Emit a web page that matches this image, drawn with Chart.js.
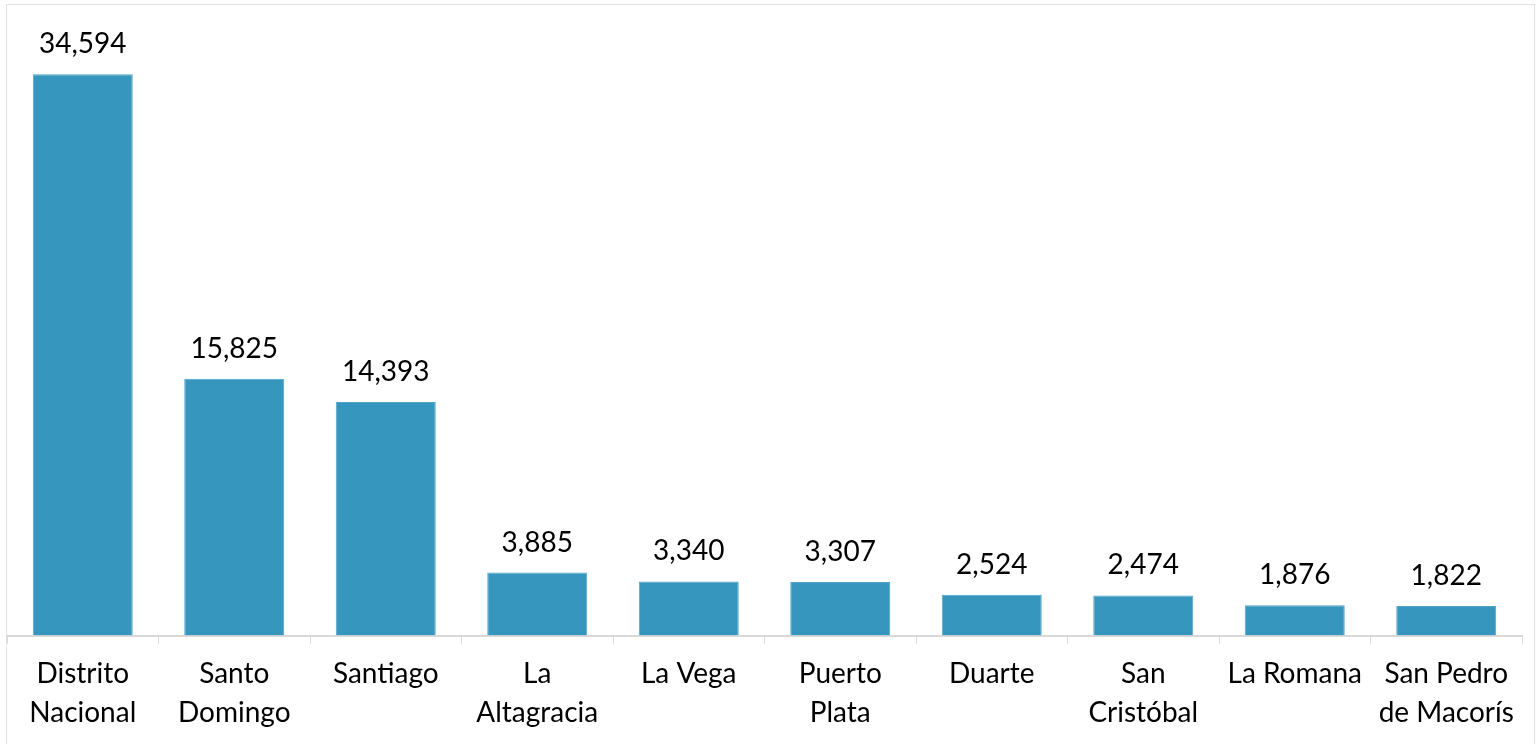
<!DOCTYPE html>
<html>
<head>
<meta charset="utf-8">
<script src="https://cdn.jsdelivr.net/npm/chart.js@4/dist/chart.umd.min.js"></script>
<style>
  body { margin: 0; background: #fff; overflow: hidden; }
  #frame { position: absolute; left: 6px; top: 4px; width: 1527px; height: 760px; border: 1px solid #e6e2e2; }
  #chart { position: absolute; left: 0; top: 0; }
</style>
</head>
<body>
<div id="frame"></div>
<canvas id="chart" width="1537" height="744"></canvas>
<script>
// provincias y valores
const provincias = [
  ['Distrito', 'Nacional'],
  ['Santo', 'Domingo'],
  'Santiago',
  ['La', 'Altagracia'],
  'La Vega',
  ['Puerto', 'Plata'],
  'Duarte',
  ['San', 'Cristóbal'],
  'La Romana',
  ['San Pedro', 'de Macorís']
];
const valores = [34594, 15825, 14393, 3885, 3340, 3307, 2524, 2474, 1876, 1822];

const barColor = 'rgb(54, 150, 189)';
const axisColor = '#d9d9d9';
const fuente = 'Lato, "Open Sans", sans-serif';

// etiquetas encima de las barras
const etiquetas = {
  id: 'etiquetas',
  afterDatasetsDraw(chart) {
    const ctx = chart.ctx;
    const meta = chart.getDatasetMeta(0);
    ctx.save();
    ctx.font = '28px ' + fuente;
    ctx.fillStyle = '#000';
    ctx.textAlign = 'center';
    ctx.textBaseline = 'alphabetic';
    meta.data.forEach((bar, i) => {
      ctx.fillText(valores[i].toLocaleString('en-US'), bar.x, bar.y - 21);
    });
    ctx.restore();
  }
};

new Chart(document.getElementById('chart'), {
  type: 'bar',
  data: {
    labels: provincias,
    datasets: [{
      data: valores,
      backgroundColor: barColor,
      borderColor: 'rgb(80, 165, 200)',
      borderWidth: 1,
      categoryPercentage: 1,
      barPercentage: 0.66
    }]
  },
  options: {
    responsive: false,
    animation: false,
    devicePixelRatio: 1,
    layout: { padding: { left: 7, right: 15, top: 19, bottom: 0 } },
    plugins: {
      legend: { display: false },
      tooltip: { enabled: false }
    },
    scales: {
      x: {
        grid: { offset: true, drawOnChartArea: false, tickLength: 8, color: axisColor },
        border: { color: axisColor, width: 2 },
        ticks: {
          color: '#000',
          font: { family: fuente, size: 28, lineHeight: 1.4 },
          padding: 11,
          maxRotation: 0,
          autoSkip: false
        }
      },
      y: { display: false, min: 0, max: 38000 }
    }
  },
  plugins: [etiquetas]
});
</script>
</body>
</html>
